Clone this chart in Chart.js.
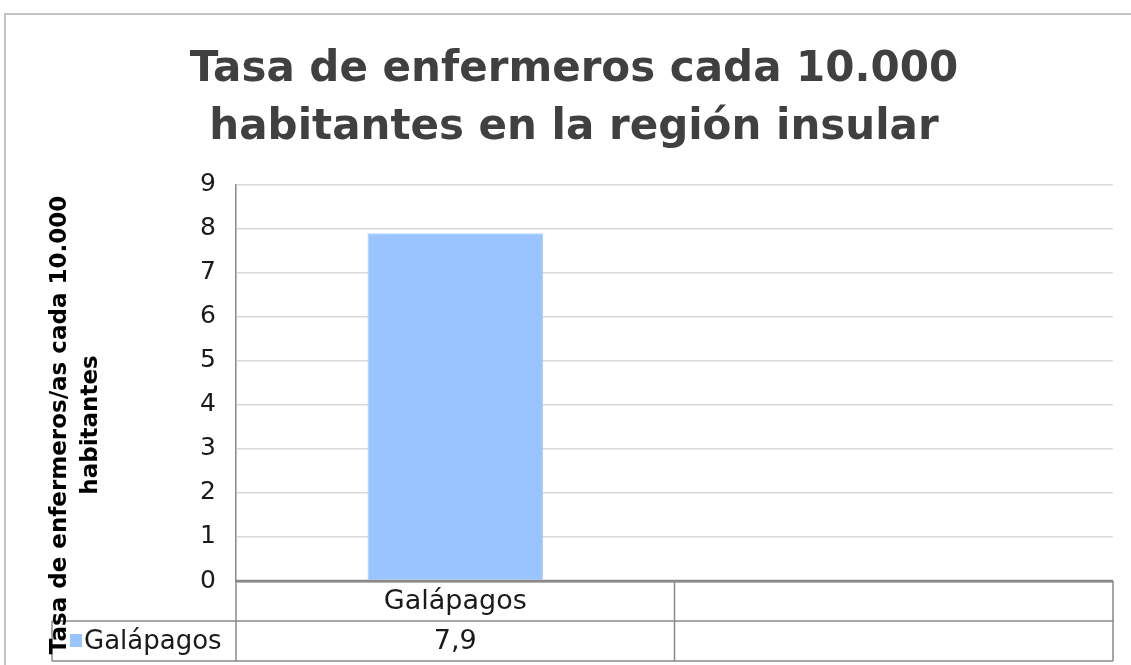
<!DOCTYPE html>
<html>
<head>
<meta charset="utf-8">
<script src="https://cdn.jsdelivr.net/npm/chart.js@4"></script>
<style>
  html, body { margin: 0; padding: 0; background: #fff; }
  #wrap { width: 1131px; height: 665px; }
</style>
</head>
<body>
<div id="wrap"><canvas id="barCanvas"></canvas></div>
<script>
// datos
const categorias = ["Galápagos", ""];
const serieNombre = "Galápagos";
const valores = [7.9, null];
const valoresTexto = ["7,9", ""];
const tituloLineas = ["Tasa de enfermeros cada 10.000", "habitantes en la región insular"];
const tituloEjeY = ["Tasa de enfermeros/as cada 10.000", "habitantes"];

const FUENTE = "'DejaVu Sans', sans-serif";
const GRIS_LINEA = "#898989";
const AZUL = "#99c4ff";

// marco exterior + fondo
const marco = {
    id: "marco",
    beforeDraw(chart) {
        const ctx = chart.ctx;
        ctx.save();
        ctx.fillStyle = "#fff";
        ctx.fillRect(0, 0, chart.width, chart.height);
        ctx.strokeStyle = "#c4c4c4";
        ctx.lineWidth = 2;
        ctx.strokeRect(5, 14, chart.width + 20, chart.height + 20);
        ctx.restore();
    }
};

// tabla de datos bajo el eje x, y título del eje y
const tablaDatos = {
    id: "tablaDatos",
    afterDraw(chart) {
        const ctx = chart.ctx;
        const area = chart.chartArea;
        const x = chart.scales.x;
        const n = categorias.length;
        const w = (area.right - area.left) / n;
        const fila = 40;
        const y0 = area.bottom;
        const y1 = y0 + fila;
        const y2 = y1 + fila;
        const izq = 52;

        ctx.save();
        ctx.strokeStyle = GRIS_LINEA;
        ctx.lineWidth = 1.5;
        ctx.beginPath();
        ctx.moveTo(izq, y1); ctx.lineTo(area.right, y1);
        ctx.moveTo(izq, y2); ctx.lineTo(area.right, y2);
        ctx.moveTo(izq, y1); ctx.lineTo(izq, y2);
        for (let i = 0; i <= n; i++) {
            const px = area.left + i * w;
            ctx.moveTo(px, y0); ctx.lineTo(px, y2);
        }
        ctx.stroke();

        // eje cero mas grueso
        ctx.lineWidth = 2.5;
        ctx.beginPath();
        ctx.moveTo(area.left, y0); ctx.lineTo(area.right, y0);
        ctx.stroke();

        ctx.fillStyle = "#1a1a1a";
        ctx.font = "27px " + FUENTE;
        ctx.textAlign = "center";
        ctx.textBaseline = "middle";
        for (let i = 0; i < n; i++) {
            const cx = x.getPixelForValue(i);
            ctx.fillText(categorias[i], cx, y0 + fila / 2 + 1);
            ctx.fillText(valoresTexto[i], cx, y1 + fila / 2 + 1);
        }
        // clave de la leyenda
        ctx.fillStyle = AZUL;
        ctx.fillRect(70, y1 + 13, 12, 13);
        ctx.fillStyle = "#1a1a1a";
        ctx.textAlign = "left";
        ctx.font = "26px " + FUENTE;
        ctx.fillText(serieNombre, 84, y1 + fila / 2 + 1);

        // titulo eje y (rotado)
        ctx.translate(0, 425);
        ctx.rotate(-Math.PI / 2);
        ctx.fillStyle = "#000";
        ctx.font = "bold 23px " + FUENTE;
        ctx.textAlign = "center";
        ctx.fillText(tituloEjeY[0], 0, 60);
        ctx.fillText(tituloEjeY[1], 0, 91);
        ctx.restore();
    }
};

const barCanvas = document.getElementById("barCanvas");

const barChart = new Chart(barCanvas, {
    type: "bar",
    data: {
        labels: categorias,
        datasets: [{
            label: serieNombre,
            data: valores,
            backgroundColor: AZUL,
            borderColor: "#a9cdfb",
            borderWidth: 1,
            categoryPercentage: 1,
            barPercentage: 0.4
        }]
    },
    options: {
        responsive: true,
        maintainAspectRatio: false,
        animation: false,
        layout: {
            padding: { left: 35, right: 18, top: 0, bottom: 84 }
        },
        plugins: {
            legend: { display: false },
            tooltip: { enabled: false },
            title: {
                display: true,
                text: tituloLineas,
                color: "#404040",
                font: { family: FUENTE, size: 42, weight: "bold", lineHeight: 1.38 },
                padding: { top: 41, bottom: 28 }
            }
        },
        scales: {
            x: {
                display: false
            },
            y: {
                min: 0,
                max: 9,
                afterFit(scale) { scale.width = 201; },
                ticks: {
                    stepSize: 1,
                    padding: 20,
                    color: "#1a1a1a",
                    font: { family: FUENTE, size: 25 }
                },
                grid: {
                    drawTicks: false,
                    color: (c) => c.tick.value === 0 ? GRIS_LINEA : "#d9d9d9",
                    lineWidth: (c) => c.tick.value === 0 ? 2.5 : 1.5
                },
                border: { color: GRIS_LINEA, width: 1.5 }
            }
        }
    },
    plugins: [marco, tablaDatos]
});
</script>
</body>
</html>
